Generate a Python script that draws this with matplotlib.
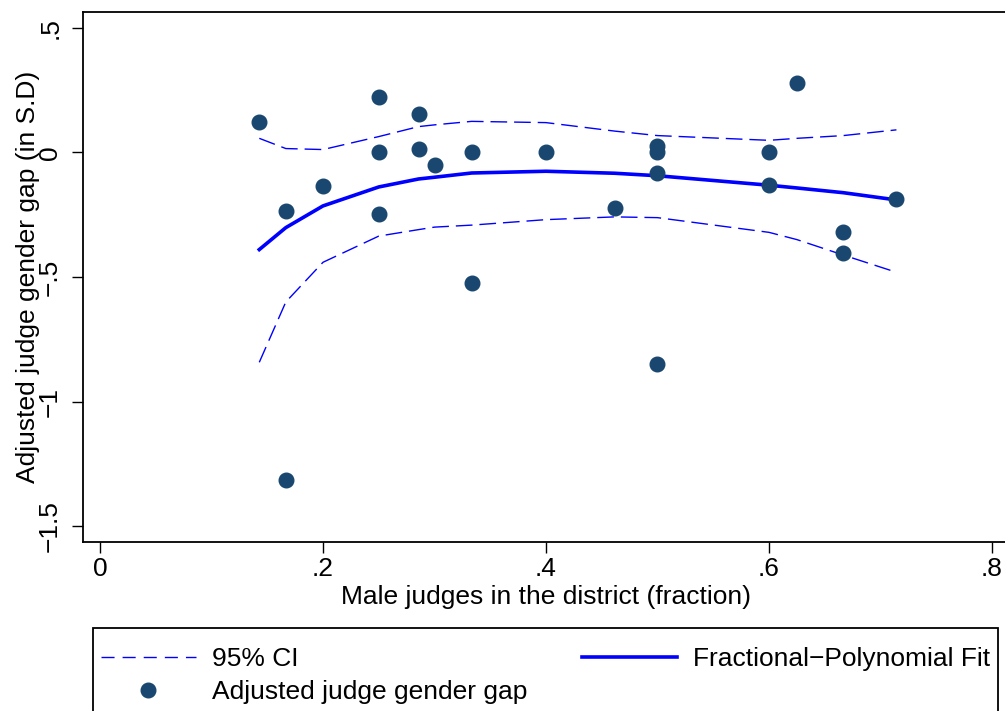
import matplotlib
matplotlib.use("Agg")
import matplotlib.pyplot as plt
from matplotlib.patches import Rectangle
from matplotlib.lines import Line2D

plt.rcParams['font.family'] = ['Liberation Sans', 'DejaVu Sans']

# scatter: adjusted judge gender gap by share of male judges
share_male = [1/7, 1/6, 1/6, 0.2, 0.25, 0.25, 0.25, 2/7, 2/7, 0.3, 1/3, 1/3,
              0.4, 6/13, 0.5, 0.5, 0.5, 0.5, 0.6, 0.6, 0.625, 2/3, 2/3, 5/7]
gap = [0.121, -0.235, -1.314, -0.136, 0.223, 0.0, -0.246, 0.154, 0.013, -0.051, 0.0, -0.525,
       0.0, -0.222, 0.025, 0.0, -0.082, -0.847, 0.0, -0.132, 0.278, -0.318, -0.404, -0.186]

# fractional-polynomial fit and 95% CI
fit_x = [1/7, 1/6, 0.2, 0.25, 2/7, 0.3, 1/3, 0.4, 6/13, 0.5, 0.6, 0.625, 2/3, 5/7]
fit_y = [-0.39, -0.302, -0.215, -0.139, -0.107, -0.10, -0.083, -0.076, -0.084, -0.094,
         -0.132, -0.143, -0.162, -0.191]
ci_hi = [0.056, 0.015, 0.011, 0.063, 0.103, 0.11, 0.124, 0.119, 0.085, 0.067,
         0.048, 0.056, 0.067, 0.09]
ci_lo = [-0.842, -0.60, -0.441, -0.336, -0.31, -0.30, -0.292, -0.270, -0.259, -0.262,
         -0.321, -0.35, -0.412, -0.481]

xticks = [0, 0.2, 0.4, 0.6, 0.8]
xtick_labels = ['0', '.2', '.4', '.6', '.8']
yticks = [-1.5, -1, -0.5, 0, 0.5]
ytick_labels = ['\u22121.5', '\u22121', '\u2212.5', '0', '.5']

W, H = 1005, 711
fig = plt.figure(figsize=(W / 100, H / 100), dpi=100)
ax = fig.add_axes([83 / W, (H - 542) / H, (1009 - 83) / W, (542 - 12) / H])

blue = '#0000ff'
navy = '#1a476f'

ax.plot(fit_x, ci_hi, color=blue, lw=1.0, dashes=(12, 5))
ax.plot(fit_x, ci_lo, color=blue, lw=1.0, dashes=(12, 5))
fit_line, = ax.plot(fit_x, fit_y, color=blue, lw=2.6)
dots, = ax.plot(share_male, gap, 'o', color=navy, ms=10.5, mec=navy, ls='none')

ax.set_xlim(-0.01525, 0.81525)
ax.set_ylim(-1.5625, 0.5625)
ax.set_xticks(xticks)
ax.set_xticklabels(xtick_labels)
ax.set_yticks(yticks)
ax.set_yticklabels(ytick_labels, rotation=90, va='center')

for side in ['left', 'bottom', 'top']:
    ax.spines[side].set_linewidth(1.3)
    ax.spines[side].set_color('black')
ax.spines['right'].set_visible(False)

ax.tick_params(axis='both', labelsize=19, length=8, width=1.0, colors='black')
ax.tick_params(axis='x', pad=3)
ax.tick_params(axis='y', pad=7)

ax.set_xlabel('Male judges in the district (fraction)', fontsize=19, labelpad=3)
ax.set_ylabel('Adjusted judge gender gap (in S.D)', fontsize=19, labelpad=-1)

# legend box (runs off the bottom edge like the original)
fig.patches.append(Rectangle((93 / W, -0.05), (998 - 93) / W, (H - 628) / H + 0.05,
                             transform=fig.transFigure, fill=False,
                             edgecolor='black', linewidth=1.3))

ci_handle = Line2D([], [], color=blue, lw=1.0, dashes=(9.4, 5.8))
leg = fig.legend([ci_handle, dots, fit_line],
                 ['95% CI', 'Adjusted judge gender gap', 'Fractional\u2212Polynomial Fit'],
                 loc='upper left', bbox_to_anchor=(93 / W, (H - 639) / H, (998 - 93) / W, 0.0),
                 mode='expand', ncol=2, fontsize=19, frameon=False,
                 handlelength=3.6, handletextpad=0.6, labelspacing=0.35,
                 borderpad=0.3, borderaxespad=0.0, columnspacing=1.0)

fig.savefig('out.png', dpi=100)
